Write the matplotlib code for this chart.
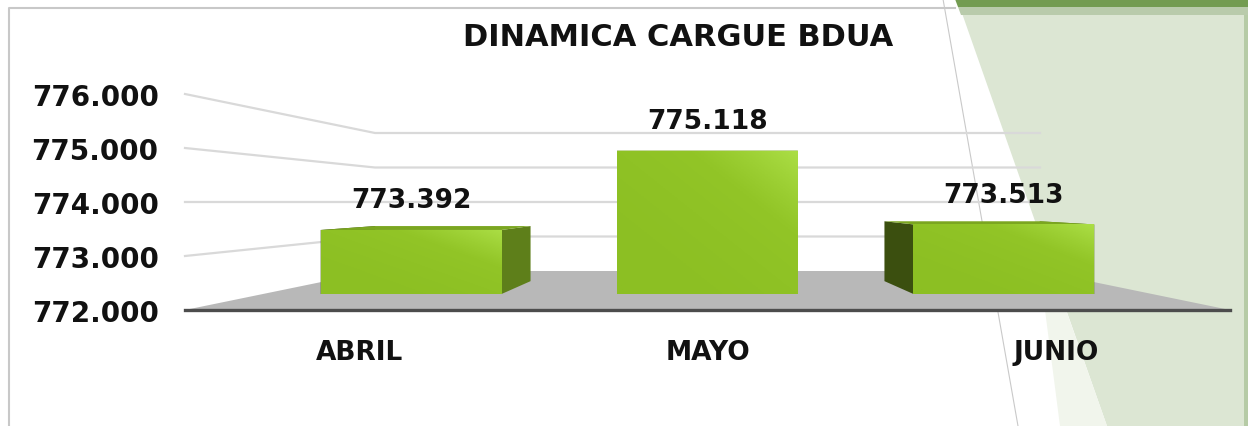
import numpy as np
import matplotlib
matplotlib.use('Agg')
import matplotlib.pyplot as plt
from matplotlib.patches import Polygon
from matplotlib.colors import LinearSegmentedColormap

# datos del grafico
meses = ['ABRIL', 'MAYO', 'JUNIO']
valores = [773392, 775118, 773513]
y_ticks = [772000, 773000, 774000, 775000, 776000]
titulo = 'DINAMICA CARGUE BDUA'

W, H = 1248, 427
fig = plt.figure(figsize=(W / 100, H / 100), dpi=100)
fig.patch.set_facecolor('white')


def fmt(v):
    return f'{v:,}'.replace(',', '.')


# fondo / escena en pixeles
bg = fig.add_axes([0, 0, 1, 1], zorder=0)
bg.set_xlim(0, W)
bg.set_ylim(H, 0)
bg.axis('off')

# decoracion verde de la diapositiva
bg.add_patch(Polygon([(957, 0), (W, 0), (W, H), (1107, H)], color='#dce6d3', lw=0, zorder=0))
bg.add_patch(Polygon([(1045, 311), (1066, 311), (1107, H), (1060, H)], color='#f1f5ec', lw=0, zorder=0))
bg.add_patch(Polygon([(955, 0), (W, 0), (W, 8), (958, 8)], color='#739c51', lw=0, zorder=0))
bg.add_patch(Polygon([(958, 8), (W, 8), (W, 16), (961, 16)], color='#b9cbab', lw=0, zorder=0))
bg.add_patch(Polygon([(1244, 16), (W, 16), (W, H), (1244, H)], color='#b6cba6', lw=0, zorder=0))
bg.plot([9, 9, 955], [H, 9, 9], color='#c8c8c8', lw=1.5, zorder=1)
bg.plot([943, 1018], [0, H], color='#c9c9c9', lw=0.8, zorder=1)


# planos en profundidad (0 = frente, 1 = fondo)
def make_plane(t, z=1):
    left = 185 + 190 * t
    right = 1230 - 190 * t
    base = 311 - 39 * t
    top = 95 + 39 * t
    ax = fig.add_axes([left / W, 1 - base / H, (right - left) / W, (base - top) / H], zorder=z)
    ax.set_xlim(-0.5, 2.5)
    ax.set_ylim(y_ticks[0], y_ticks[-1])
    ax.patch.set_alpha(0)
    return ax


ax_front = make_plane(0, z=1)
ax_back = make_plane(1, z=1)
ax_back.axis('off')
ax_bback = make_plane(0.74, z=1)
ax_bback.axis('off')
ax_mid = make_plane(0.41, z=2)
ax_mid.axis('off')


def to_scene(ax, xs, ys):
    pts = ax.transData.transform(np.column_stack([xs, ys]))
    return bg.transData.inverted().transform(pts)


base = y_ticks[0]
x = np.arange(len(meses))
w = 0.61

# piso gris
floor = np.vstack([to_scene(ax_front, [-0.5, 2.5], [base, base]),
                   to_scene(ax_back, [2.5, -0.5], [base, base])])
bg.add_patch(Polygon(floor, color='#b8b8b8', lw=0, zorder=2))

# lineas de cuadricula (pared lateral + pared del fondo)
for v in y_ticks[1:]:
    p = np.vstack([to_scene(ax_front, [-0.5], [v]),
                   to_scene(ax_back, [-0.5, 2.5], [v, v])])
    bg.plot(p[:, 0], p[:, 1], color='#d9d9d9', lw=1.6, zorder=2)

# caras laterales y superiores de las barras
for i, v in enumerate(valores):
    xl, xr = i - w / 2, i + w / 2
    fl = to_scene(ax_mid, [xl, xl], [base, v])
    fr = to_scene(ax_mid, [xr, xr], [base, v])
    kl = to_scene(ax_bback, [xl, xl], [base, v])
    kr = to_scene(ax_bback, [xr, xr], [base, v])
    bg.add_patch(Polygon([fr[0], fr[1], kr[1], kr[0]], color='#5e7f1a', lw=0, zorder=3))
    bg.add_patch(Polygon([fl[0], fl[1], kl[1], kl[0]], color='#3b4f0f', lw=0, zorder=3))
    bg.add_patch(Polygon([fl[1], fr[1], kr[1], kl[1]], color='#7ba620', lw=0, zorder=3))

# caras frontales
bars = ax_mid.bar(x, [v - base for v in valores], bottom=base, width=w,
                  color='#90c226', lw=0)
cmap = LinearSegmentedColormap.from_list('verde', ['#8cbf23', '#92c527', '#abde45'])
gx, gy = np.meshgrid(np.linspace(0, 1, 60), np.linspace(0, 1, 60))
grad = ((gx + gy) / 2) ** 2
for b in bars:
    bx, by = b.get_x(), b.get_y()
    im = ax_mid.imshow(grad, extent=[bx, bx + b.get_width(), by, by + b.get_height()],
                       origin='lower', cmap=cmap, aspect='auto', zorder=3)
    im.set_clip_path(b)
ax_mid.set_xlim(-0.5, 2.5)
ax_mid.set_ylim(y_ticks[0], y_ticks[-1])

ax_mid.bar_label(bars, labels=[fmt(v) for v in valores], padding=12,
                 fontsize=19, fontweight='bold', color='#111111')

# ejes del plano frontal
ax_front.set_yticks(y_ticks, [fmt(v) for v in y_ticks])
ax_front.set_xticks(x, meses)
ax_front.tick_params(axis='y', length=0, pad=19, labelsize=20, labelcolor='#111111')
ax_front.tick_params(axis='x', length=0, pad=21, labelsize=19, labelcolor='#111111')
for lab in ax_front.get_xticklabels() + ax_front.get_yticklabels():
    lab.set_fontweight('bold')
for s in ['top', 'left', 'right']:
    ax_front.spines[s].set_visible(False)
ax_front.spines['bottom'].set_color('#4d4d4d')
ax_front.spines['bottom'].set_linewidth(2.4)
ax_front.spines['bottom'].set_zorder(3)

fig.text(678 / W, 1 - 38 / H, titulo, ha='center', va='center',
         fontsize=22, fontweight='bold', color='#111111')

fig.savefig('out.png', dpi=100)
